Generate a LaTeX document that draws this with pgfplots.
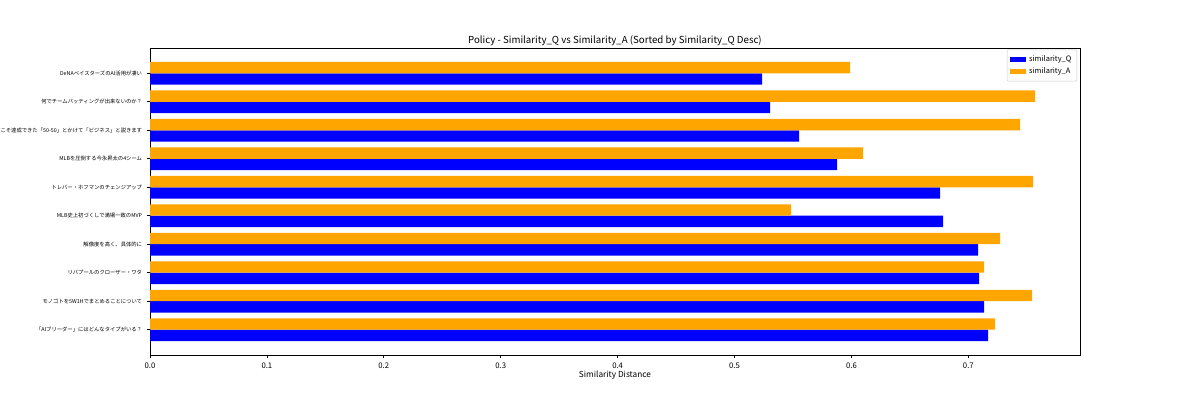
\documentclass[border=0pt]{standalone}
\usepackage{pgfplots}
\pgfplotsset{compat=1.18}
\usepackage{fontspec}
\setmainfont{Noto Sans CJK JP}
\definecolor{mplblue}{RGB}{0,0,255}
\definecolor{mplorange}{RGB}{255,165,0}
\begin{document}
\begin{tikzpicture}
\useasboundingbox (0,0) rectangle (12in,4in);
\begin{axis}[
  at={(1.5in,0.45in)}, anchor=south west,
  scale only axis, width=9.3in, height=3.07in,
  xmin=0, xmax=0.7955, ymin=-0.89, ymax=9.89, y dir=reverse,
  ytick={0,...,9},
  yticklabels={DeNAベイスターズのAI活用が凄い,何でチームバッティングが出来ないのか？,こそ達成できた「50-50」とかけて「ビジネス」と説きます,MLBを圧倒する今永昇太の4シーム,トレバー・ホフマンのチェンジアップ,MLB史上初づくしで満場一致のMVP,解像度を高く、具体的に,リバプールのクローザー・ワタ,モノゴトを5W1Hでまとめることについて,「AIブリーダー」にはどんなタイプがいる？},
  xtick={0,0.1,0.2,0.3,0.4,0.5,0.6,0.7},
  /pgf/number format/assume math mode=true,
  xticklabel style={/pgf/number format/fixed,/pgf/number format/precision=1,/pgf/number format/fixed zerofill,font=\fontsize{5.6}{6}\selectfont},
  yticklabel style={font=\fontsize{3.85}{4.5}\selectfont},
  tick align=outside, tick pos=left, major tick length=2.2pt,
  tick style={black, line width=0.5pt},
  axis line style={line width=0.5pt},
  title={Policy - Similarity\_Q vs Similarity\_A (Sorted by Similarity\_Q Desc)},
  title style={font=\fontsize{7.0}{8}\selectfont, yshift=-8pt},
  xlabel={Similarity Distance},
  xlabel style={font=\fontsize{6.0}{7}\selectfont, yshift=5pt},
  legend style={at={(0.997,0.995)}, anchor=north east, font=\fontsize{5.4}{6.3}\selectfont, draw=black!20, rounded corners=1pt, row sep=-1pt, inner sep=2pt},
  legend cell align=left,
  legend image code/.code={\fill[#1, sharp corners] (0pt,-2pt) rectangle (12pt,2pt);},
]
\addplot[xbar, bar width=0.4, bar shift=0.2, fill=mplblue, draw=none] coordinates {
(0.5235,0) (0.5304,1) (0.5552,2) (0.5877,3) (0.6758,4) (0.6784,5) (0.7083,6) (0.7092,7) (0.7134,8) (0.7169,9)};
\addlegendentry{similarity\_Q}
\addplot[xbar, bar width=0.4, bar shift=-0.2, fill=mplorange, draw=none] coordinates {
(0.5988,0) (0.7570,1) (0.7442,2) (0.6099,3) (0.7553,4) (0.5483,5) (0.7271,6) (0.7134,7) (0.7545,8) (0.7228,9)};
\addlegendentry{similarity\_A}
\end{axis}
\end{tikzpicture}
\end{document}
